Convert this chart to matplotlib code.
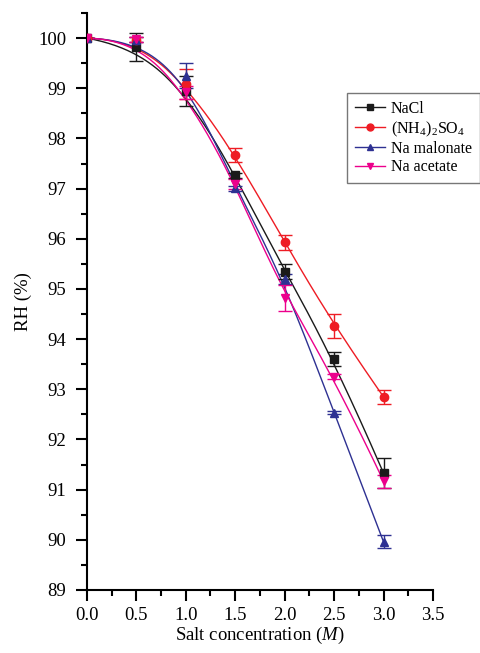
import numpy as np
import matplotlib
matplotlib.use("Agg")
import matplotlib.pyplot as plt
from matplotlib.ticker import MultipleLocator

plt.rcParams['font.family'] = ['Liberation Serif', 'DejaVu Serif']
plt.rcParams['mathtext.fontset'] = 'custom'
plt.rcParams['mathtext.rm'] = 'Liberation Serif'
plt.rcParams['mathtext.it'] = 'Liberation Serif:italic'

conc = [0.0, 0.5, 1.0, 1.5, 2.0, 2.5, 3.0]
nacl = [100.0, 99.82, 98.95, 97.27, 95.34, 93.6, 91.33]
nacl_err = [0.0, 0.28, 0.3, 0.05, 0.15, 0.14, 0.3]
amsulf = [100.0, 99.97, 99.09, 97.67, 95.93, 94.26, 92.85]
amsulf_err = [0.0, 0.05, 0.3, 0.14, 0.15, 0.24, 0.14]
malon = [100.0, 99.97, 99.25, 97.01, 95.2, 92.53, 89.96]
malon_err = [0.0, 0.05, 0.25, 0.05, 0.1, 0.03, 0.13]
acet = [100.0, 99.98, 98.92, 97.1, 94.82, 93.25, 91.17]
acet_err = [0.0, 0.05, 0.13, 0.1, 0.25, 0.05, 0.13]

names = ['NaCl', r'(NH$_4$)$_2$SO$_4$', 'Na malonate', 'Na acetate']
colors = ['#1a1a1a', '#ee1c24', '#2e3192', '#ec008c']
markers = ['s', 'o', '^', 'v']
series = [nacl, amsulf, malon, acet]
errs = [nacl_err, amsulf_err, malon_err, acet_err]


def bspline(px, py, k=3, n=300):
    """Clamped uniform B-spline with the data points as control points."""
    P = np.column_stack([px, py]).astype(float)
    m = len(P)
    inner = np.arange(1, m - k)
    knots = np.concatenate([np.zeros(k + 1), inner, np.full(k + 1, m - k)]).astype(float)
    ts = np.linspace(0, m - k, n)
    out = []
    for t in ts:
        j = min(np.searchsorted(knots, t, side='right') - 1, m - 1)
        d = [P[j - k + r].copy() for r in range(k + 1)]
        for r in range(1, k + 1):
            for i in range(k, r - 1, -1):
                a = (t - knots[i + j - k]) / (knots[i + 1 + j - r] - knots[i + j - k])
                d[i] = (1 - a) * d[i - 1] + a * d[i]
        out.append(d[k])
    out = np.array(out)
    return out[:, 0], out[:, 1]


fig = plt.figure(figsize=(4.8, 6.53), dpi=100)
ax = fig.add_axes([0.181, 0.0965, 0.721, 0.8835])

handles = []
for y, e, c, m, nm in zip(series, errs, colors, markers, names):
    bx, by = bspline(conc, y)
    ax.plot(bx, by, color=c, lw=1.0, zorder=2)
    ax.errorbar(conc, y, yerr=e, fmt='none', ecolor=c, elinewidth=1.0,
                capsize=5, capthick=1.0, zorder=3)
    ax.plot(conc, y, ls='none', marker=m, color=c, ms=6, zorder=4)
    h, = ax.plot([], [], color=c, lw=1.0, marker=m, ms=5, label=nm)
    handles.append(h)

ax.set_xlim(0, 3.5)
ax.set_ylim(89, 100.5)
ax.xaxis.set_minor_locator(MultipleLocator(0.25))
ax.yaxis.set_minor_locator(MultipleLocator(0.5))
ax.set_yticks(np.arange(89, 100.01, 1))
ax.set_xticks(np.arange(0, 3.51, 0.5))
ax.set_xticklabels([f'{v:.1f}' for v in np.arange(0, 3.51, 0.5)])

for s in ['top', 'right']:
    ax.spines[s].set_visible(False)
for s in ['left', 'bottom']:
    ax.spines[s].set_linewidth(1.5)
ax.tick_params(which='major', direction='out', length=8, width=1.5,
               labelsize=13.5, colors='black', pad=4)
ax.tick_params(axis='y', which='major', pad=7)
ax.tick_params(which='minor', direction='out', length=4.5, width=1.5)

ax.set_xlabel('Salt concentration ($\\mathit{M}$)', fontsize=13.5, labelpad=1)
ax.set_ylabel('RH (%)', fontsize=13.5, labelpad=4)

leg = ax.legend(handles=handles, loc='upper left',
                bbox_to_anchor=(347 / 480, 1 - 93 / 653),
                bbox_transform=fig.transFigure, fontsize=11.5,
                frameon=True, fancybox=False, edgecolor='#555555',
                handlelength=1.9, borderpad=0.5, labelspacing=0.15,
                handletextpad=0.35, borderaxespad=0)
leg.get_frame().set_linewidth(1.0)

fig.savefig('out.png', dpi=100)
